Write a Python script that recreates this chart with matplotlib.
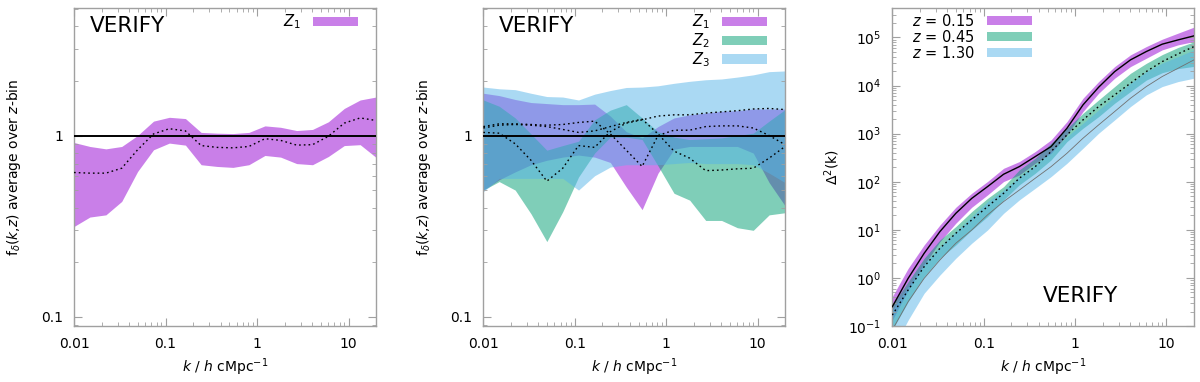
import numpy as np
import matplotlib
matplotlib.use("Agg")
import matplotlib.pyplot as plt
from matplotlib.patches import Patch
from matplotlib.ticker import FixedLocator, LogLocator, FuncFormatter, NullFormatter, LogFormatterSciNotation

plt.rcParams["font.family"] = ["DejaVu Sans"]
plt.rcParams["mathtext.fontset"] = "dejavusans"

# ── Data ──
k = [0.01, 0.0149, 0.0223, 0.0332, 0.0495, 0.0739, 0.110, 0.165, 0.245, 0.366,
     0.546, 0.815, 1.22, 1.81, 2.71, 4.04, 6.02, 8.98, 13.4, 20.0]

# panel 1 : f_delta for Z1
p1_hi = [0.915, 0.87, 0.844, 0.87, 1.0, 1.2, 1.26, 1.24, 1.04, 1.03,
         1.025, 1.04, 1.13, 1.11, 1.065, 1.08, 1.19, 1.41, 1.57, 1.63]
p1_lo = [0.315, 0.355, 0.365, 0.433, 0.633, 0.834, 0.908, 0.885, 0.69, 0.675,
         0.667, 0.69, 0.776, 0.76, 0.70, 0.69, 0.766, 0.88, 0.89, 0.757]
p1_med = [0.625, 0.62, 0.62, 0.66, 0.834, 1.02, 1.09, 1.06, 0.88, 0.86,
          0.855, 0.87, 0.96, 0.94, 0.885, 0.89, 0.99, 1.17, 1.25, 1.21]

# panel 2 : f_delta for Z1, Z2, Z3
z1_hi = [1.71, 1.66, 1.58, 1.52, 1.50, 1.48, 1.48, 1.49, 1.28, 1.05,
         0.97, 1.12, 1.25, 1.30, 1.33, 1.36, 1.37, 1.40, 1.40, 1.40]
z1_lo = [0.50, 0.57, 0.63, 0.69, 0.73, 0.76, 0.78, 0.76, 0.71, 0.52,
         0.39, 0.62, 0.84, 0.87, 0.87, 0.87, 0.87, 0.80, 0.55, 0.41]
z2_hi = [1.57, 1.45, 1.25, 1.02, 0.83, 0.88, 0.93, 1.22, 1.38, 1.48,
         1.25, 1.05, 0.98, 0.95, 0.96, 0.97, 1.00, 1.03, 1.20, 1.39]
z2_lo = [0.50, 0.557, 0.50, 0.37, 0.26, 0.38, 0.59, 0.80, 0.98, 0.98,
         0.95, 0.68, 0.48, 0.44, 0.34, 0.34, 0.31, 0.30, 0.365, 0.375]
z3_hi = [1.85, 1.81, 1.79, 1.71, 1.64, 1.63, 1.57, 1.69, 1.77, 1.84,
         1.85, 1.88, 1.94, 1.99, 2.03, 2.05, 2.10, 2.16, 2.25, 2.27]
z3_lo = [0.49, 0.58, 0.58, 0.58, 0.58, 0.58, 0.50, 0.60, 0.67, 0.69,
         0.69, 0.69, 0.70, 0.71, 0.70, 0.70, 0.70, 0.69, 0.62, 0.55]
z1_med = [1.12, 1.16, 1.16, 1.15, 1.14, 1.15, 1.18, 1.20, 1.02, 0.83,
          0.675, 1.00, 1.07, 1.07, 1.12, 1.13, 1.13, 1.10, 1.00, 0.89]
z2_med = [1.04, 1.03, 0.90, 0.73, 0.56, 0.66, 0.88, 0.86, 1.05, 1.17,
          1.22, 1.28, 1.30, 1.30, 1.33, 1.35, 1.37, 1.40, 1.41, 1.39]
z3_med = [1.10, 1.14, 1.15, 1.14, 1.12, 1.08, 1.04, 1.06, 1.12, 1.18,
          1.23, 1.02, 0.82, 0.75, 0.64, 0.645, 0.655, 0.66, 0.75, 0.87]

# panel 3 : Delta^2(k) at three redshifts
d1_med = [0.252, 0.98, 3.25, 9.2, 22, 45, 79, 143, 206, 333,
          538, 1295, 3960, 9230, 19500, 34200, 51000, 72500, 89000, 108000]
d1_hi = [0.41, 1.58, 4.84, 12.6, 29.4, 57.5, 101, 190, 262, 424,
         740, 1780, 5440, 12100, 24800, 43500, 64700, 92000, 123000, 164000]
d1_lo = [0.133, 0.56, 1.86, 5.7, 13.7, 29.4, 53, 101, 138, 242,
         390, 935, 2880, 6920, 14200, 24800, 37000, 55200, 70200, 82300]
d2_med = [0.169, 0.561, 1.71, 4.13, 8.47, 16.0, 30.4, 57.5, 118, 206,
          424, 942, 1930, 3660, 6400, 11200, 19600, 31500, 45600, 64700]
d2_hi = [0.274, 0.835, 2.56, 6.15, 11.7, 23.9, 45, 79, 176, 307,
         630, 1295, 2650, 5030, 9530, 18000, 29000, 44000, 62000, 81000]
d2_lo = [0.083, 0.32, 1.06, 2.56, 4.84, 9.9, 18.8, 41.8, 86, 150,
         284, 684, 1295, 2260, 4290, 7500, 13000, 18500, 22500, 25000]
d3_med = [0.083, 0.32, 0.98, 2.36, 5.25, 9.9, 20.4, 38.6, 67, 118,
          206, 391, 802, 1520, 2880, 5450, 9530, 15400, 22900, 34200]
d3_hi = [0.215, 0.66, 2.01, 4.47, 9.2, 18.8, 38.6, 67, 128, 224,
         424, 870, 1650, 3120, 5900, 11200, 19500, 29200, 40100, 55200]
d3_lo = [0.032, 0.133, 0.48, 1.15, 2.56, 5.25, 9.9, 22, 41.8, 73,
         128, 242, 497, 1020, 1930, 3660, 6400, 9530, 12100, 14200]

bin_labels = ["$Z_1$", "$Z_2$", "$Z_3$"]
z_labels = ["$z$ = 0.15", "$z$ = 0.45", "$z$ = 1.30"]

# ── Style ──
COLORS = ["#9400d3", "#009e73", "#56b4e9"]
ALPHA = 0.5
FRAME = "#a0a0a0"
DOT = (0, (1.2, 2.2))


def style_axes(ax):
    ax.set_xscale("log")
    ax.set_yscale("log")
    ax.set_xlim(0.01, 20)
    for s in ax.spines.values():
        s.set_color(FRAME)
        s.set_linewidth(1.0)
    ax.tick_params(which="both", direction="in", top=True, right=True,
                   color=FRAME, labelsize=10, labelcolor="black")
    ax.tick_params(which="major", length=6, width=0.8, pad=8)
    ax.tick_params(which="minor", length=3, width=0.6)
    ax.xaxis.set_major_locator(FixedLocator([0.01, 0.1, 1, 10]))
    ax.xaxis.set_minor_locator(LogLocator(base=10, subs=np.arange(2, 10), numticks=20))
    ax.xaxis.set_major_formatter(FuncFormatter(lambda v, p: f"{v:g}"))
    ax.xaxis.set_minor_formatter(NullFormatter())
    ax.set_xlabel("$k$ / $h$ cMpc$^{-1}$", fontsize=10)
    ax.xaxis.set_label_coords(0.5, -0.097)


def style_fdelta(ax):
    ax.set_ylim(0.089, 5.05)
    ax.yaxis.set_major_locator(FixedLocator([0.1, 1]))
    ax.yaxis.set_minor_locator(LogLocator(base=10, subs=np.arange(2, 10), numticks=20))
    ax.yaxis.set_major_formatter(FuncFormatter(lambda v, p: f"{v:g}"))
    ax.yaxis.set_minor_formatter(NullFormatter())
    ax.set_ylabel(r"f$_\delta$($k$,$z$) average over $z$-bin", fontsize=10)
    ax.yaxis.set_label_coords(-0.168, 0.5)
    ax.axhline(1, color="black", lw=1.4, zorder=4)


fig = plt.figure(figsize=(12, 3.82), dpi=100)
ax1 = fig.add_axes([0.0617, 0.1466, 0.2517, 0.8325])
ax2 = fig.add_axes([0.4028, 0.1466, 0.2514, 0.8325])
ax3 = fig.add_axes([0.7436, 0.1466, 0.2514, 0.8325])

# ── Panel 1 ──
style_axes(ax1)
style_fdelta(ax1)
ax1.fill_between(k, p1_lo, p1_hi, color=COLORS[0], alpha=ALPHA, lw=0)
ax1.plot(k, p1_med, color="black", lw=1.0, ls=DOT, zorder=5)
ax1.legend([Patch(facecolor=COLORS[0], alpha=ALPHA, lw=0)], bin_labels[:1],
           loc="upper right", bbox_to_anchor=(0.94, 0.985), frameon=False,
           markerfirst=False, fontsize=10.5, handlelength=3.1, handleheight=0.6,
           labelspacing=0.0, borderpad=0, borderaxespad=0, handletextpad=0.8)
ax1.text(0.053, 0.975, "VERIFY", transform=ax1.transAxes, fontsize=15.5,
         va="top", ha="left")

# ── Panel 2 ──
style_axes(ax2)
style_fdelta(ax2)
bands = [(z1_lo, z1_hi), (z2_lo, z2_hi), (z3_lo, z3_hi)]
for (lo, hi), c in zip(bands, COLORS):
    ax2.fill_between(k, lo, hi, color=c, alpha=ALPHA, lw=0)
for med in (z1_med, z2_med, z3_med):
    ax2.plot(k, med, color="black", lw=1.0, ls=DOT, zorder=5)
ax2.legend([Patch(facecolor=c, alpha=ALPHA, lw=0) for c in COLORS], bin_labels,
           loc="upper right", bbox_to_anchor=(0.94, 0.985), frameon=False,
           markerfirst=False, fontsize=10.5, handlelength=3.1, handleheight=0.6,
           labelspacing=0.0, borderpad=0, borderaxespad=0, handletextpad=0.8)
ax2.text(0.052, 0.975, "VERIFY", transform=ax2.transAxes, fontsize=15.5,
         va="top", ha="left")

# ── Panel 3 ──
style_axes(ax3)
ax3.set_ylim(0.1, 4.1e5)
ax3.yaxis.set_major_locator(LogLocator(base=10, numticks=20))
ax3.yaxis.set_minor_locator(LogLocator(base=10, subs=np.arange(2, 10), numticks=20))
ax3.yaxis.set_major_formatter(LogFormatterSciNotation())
ax3.yaxis.set_minor_formatter(NullFormatter())
ax3.set_ylabel(r"$\Delta^2$(k)", fontsize=10)
ax3.yaxis.set_label_coords(-0.167, 0.5)

dbands = [(d1_lo, d1_hi), (d2_lo, d2_hi), (d3_lo, d3_hi)]
for (lo, hi), c in zip(dbands, COLORS):
    ax3.fill_between(k, lo, hi, color=c, alpha=ALPHA, lw=0)
ax3.plot(k, d1_med, color="black", lw=1.0, zorder=5)
ax3.plot(k, d2_med, color="black", lw=1.0, ls=DOT, zorder=5)
ax3.plot(k, d3_med, color="#707070", lw=0.6, zorder=5)
ax3.legend([Patch(facecolor=c, alpha=ALPHA, lw=0) for c in COLORS], z_labels,
           loc="upper left", bbox_to_anchor=(0.065, 0.985), frameon=False,
           markerfirst=False, fontsize=10.5, handlelength=3.1, handleheight=0.6,
           labelspacing=0.0, borderpad=0, borderaxespad=0, handletextpad=0.8)
ax3.text(0.50, 0.075, "VERIFY", transform=ax3.transAxes, fontsize=15.5,
         va="baseline", ha="left")

fig.savefig("out.png", dpi=100)
